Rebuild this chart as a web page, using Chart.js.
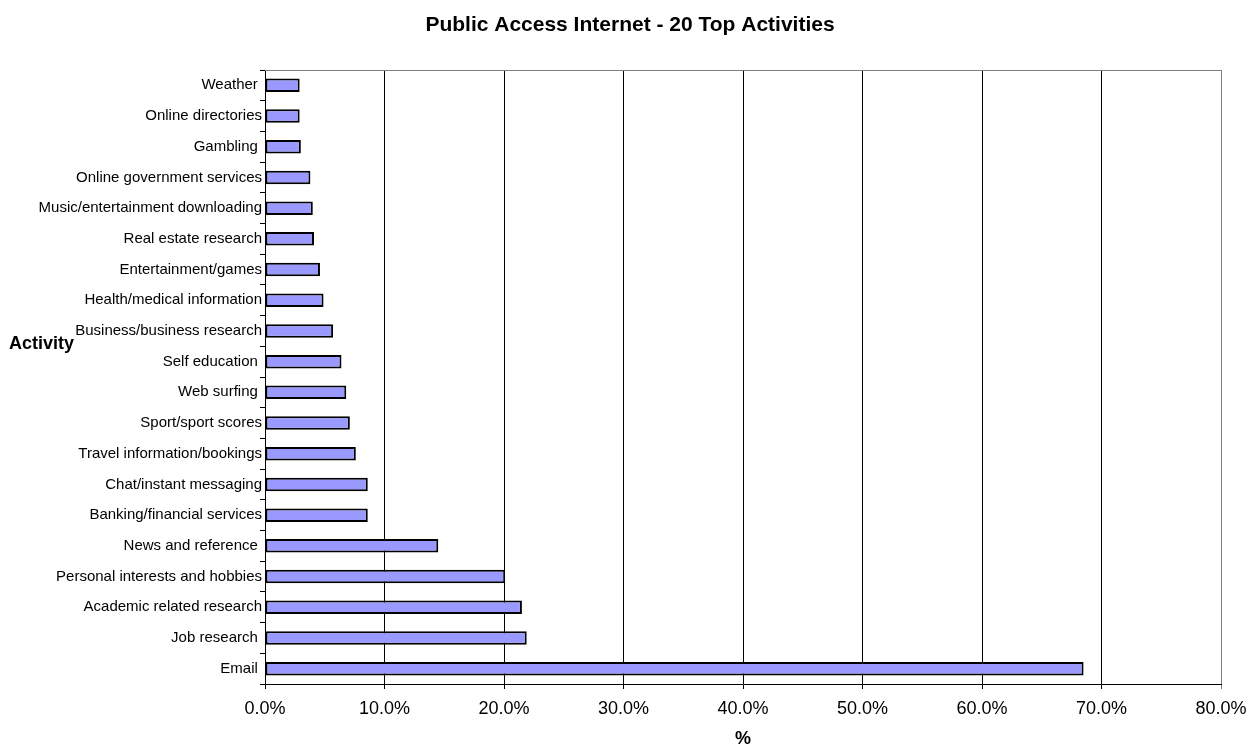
<!DOCTYPE html>
<html>
<head>
<meta charset="utf-8">
<script src="https://cdn.jsdelivr.net/npm/chart.js@4"></script>
<style>
  html, body { margin:0; padding:0; background:#fff; }
  #wrap { width:1250px; height:745px; }
</style>
</head>
<body>
<div id="wrap"><canvas id="chart" width="1250" height="745"></canvas></div>
<script>
// categories, top to bottom as in the picture
const activities = [
  "Weather ", "Online directories", "Gambling ", "Online government services",
  "Music/entertainment downloading", "Real estate research", "Entertainment/games",
  "Health/medical information", "Business/business research", "Self education ",
  "Web surfing ", "Sport/sport scores", "Travel information/bookings",
  "Chat/instant messaging", "Banking/financial services", "News and reference ",
  "Personal interests and hobbies", "Academic related research", "Job research ", "Email "
];
// share of users, %
const shares = [
  2.9, 2.9, 3.0, 3.8, 4.0, 4.1, 4.6, 4.9, 5.7, 6.4,
  6.8, 7.1, 7.6, 8.6, 8.6, 14.5, 20.1, 21.5, 21.9, 68.5
];
const xTicks = [0, 10, 20, 30, 40, 50, 60, 70, 80];

const FONT = "'Liberation Sans', Arial, sans-serif";
Chart.defaults.font.family = FONT;
Chart.defaults.color = "#000";

// title, gray frame on top, horizontal "Activity" title
const frame = {
  id: "frame",
  afterDraw(chart){
    const {ctx, chartArea:a} = chart;
    ctx.save();
    ctx.strokeStyle = "#808080";
    ctx.lineWidth = 1;
    ctx.beginPath();
    ctx.moveTo(a.left, a.top + 0.5);
    ctx.lineTo(a.right + 0.5, a.top + 0.5);
    ctx.stroke();
    ctx.fillStyle = "#000";
    ctx.font = "bold 21px " + FONT;
    ctx.textAlign = "center";
    ctx.textBaseline = "alphabetic";
    ctx.fillText("Public Access Internet - 20 Top Activities", 630, 31);
    ctx.font = "bold 18px " + FONT;
    ctx.textAlign = "left";
    ctx.textBaseline = "middle";
    ctx.fillText("Activity", 9, a.top + (a.bottom - a.top) * 0.446);
    ctx.restore();
  }
};

new Chart(document.getElementById("chart"), {
  type: "bar",
  data: {
    labels: activities,
    datasets: [{
      data: shares,
      backgroundColor: "#9999FF",
      borderColor: "#000",
      borderWidth: 2,
      borderSkipped: false,
      categoryPercentage: 1,
      barPercentage: 0.44
    }]
  },
  options: {
    indexAxis: "y",
    responsive: false,
    animation: false,
    layout: { padding: { left: 0, right: 29, top: 70, bottom: 0 } },
    plugins: {
      legend: { display: false },
      tooltip: { enabled: false },
      title: { display: false }
    },
    scales: {
      x: {
        min: 0, max: 80,
        afterBuildTicks: s => { s.ticks = xTicks.map(v => ({value: v})); },
        afterFit: s => { s.height = 61; s.paddingLeft = 0; s.paddingRight = 0; },
        ticks: { font: { size: 18 }, padding: 9, callback: v => v.toFixed(1) + "%" },
        grid: {
          color: c => (c.tick && c.tick.value === 80) ? "#808080" : "#000",
          lineWidth: 1,
          tickLength: 5
        },
        border: { color: "#000", width: 1 },
        title: { display: true, text: "%", font: { size: 18, weight: "bold" }, padding: { top: 0, bottom: -5 } }
      },
      y: {
        afterFit: s => { s.width = 265; s.paddingTop = 0; s.paddingBottom = 0; },
        ticks: { font: { size: 15 }, padding: -2, autoSkip: false },
        grid: { drawOnChartArea: false, tickLength: 5, color: "#000" },
        border: { color: "#000", width: 1 }
      }
    }
  },
  plugins: [frame]
});
</script>
</body>
</html>
